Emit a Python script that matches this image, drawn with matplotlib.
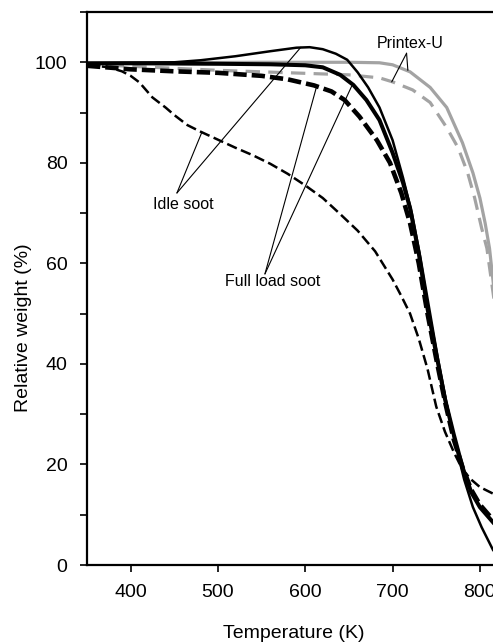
import matplotlib
matplotlib.use("Agg")
import matplotlib.pyplot as plt
from matplotlib.ticker import MultipleLocator

plt.rcParams['font.family'] = ['Liberation Sans', 'DejaVu Sans']

# TGA curves, temperature (K) vs relative weight (%)
idle_solid_T = [350, 400, 450, 480, 520, 560, 590, 605, 620, 635, 648, 660, 672, 685,
                700, 712, 722, 732, 742, 752, 762, 772, 782, 792, 802, 815]
idle_solid_w = [99.8, 99.9, 100.0, 100.4, 101.2, 102.2, 102.9, 103.0, 102.6, 101.7, 100.5,
                98.0, 95.0, 91.0, 84.5, 77.0, 70.0, 61.0, 51.0, 41.0, 32.0, 24.0, 17.0,
                11.5, 7.5, 3.0]

idle_dash_T = [350, 375, 390, 400, 410, 425, 440, 450, 465, 480, 500, 520, 540, 560, 580,
               600, 620, 640, 660, 680, 700, 710, 720, 730, 740, 750, 760, 770, 780, 790,
               800, 815]
idle_dash_w = [99.5, 99.0, 98.2, 97.3, 96.0, 93.0, 91.0, 89.5, 87.5, 86.2, 84.6, 83.0, 81.5,
               79.8, 77.8, 75.5, 73.0, 69.8, 66.5, 62.4, 56.8, 53.5, 50.0, 45.0, 39.0, 31.5,
               26.5, 22.5, 19.0, 17.0, 15.5, 14.2]

full_solid_T = [350, 400, 500, 560, 600, 620, 640, 655, 670, 685, 700, 712, 720, 730, 740,
                750, 760, 770, 780, 790, 800, 815]
full_solid_w = [99.8, 99.8, 99.7, 99.6, 99.4, 99.0, 97.5, 95.5, 92.5, 88.5, 82.0, 76.0, 71.0,
                62.0, 51.0, 42.0, 33.0, 26.0, 19.5, 14.5, 11.5, 8.5]

full_dash_T = [350, 400, 450, 500, 550, 580, 610, 630, 645, 662, 682, 697, 710, 720, 730,
               740, 750, 760, 770, 780, 790, 800, 815]
full_dash_w = [99.3, 98.6, 98.2, 97.9, 97.3, 96.6, 95.4, 94.2, 92.5, 89.2, 84.5, 80.0, 74.0,
               68.0, 60.0, 50.0, 41.0, 32.5, 25.0, 19.5, 15.0, 12.0, 9.0]

printex_solid_T = [350, 450, 550, 650, 685, 700, 720, 743, 762, 780, 792, 800, 806, 811, 816]
printex_solid_w = [99.8, 99.9, 100.0, 100.0, 99.9, 99.5, 98.1, 95.0, 91.0, 84.0, 78.0, 73.0,
                   68.0, 63.0, 55.0]

printex_dash_T = [350, 400, 450, 500, 550, 600, 650, 685, 700, 723, 743, 762, 775, 786, 794,
                  802, 808, 816]
printex_dash_w = [99.6, 99.2, 98.8, 98.4, 98.1, 97.8, 97.5, 96.9, 96.1, 94.5, 92.0, 87.0,
                  83.0, 78.0, 73.0, 67.0, 63.0, 53.0]

fig = plt.figure(figsize=(4.93, 6.44), dpi=100)
ax = fig.add_axes([87 / 493, 79 / 644, 1 - 87 / 493, 553 / 644])

grey = '#a3a3a3'
ax.plot(printex_solid_T, printex_solid_w, color=grey, lw=2.3, solid_capstyle='butt')
ax.plot(printex_dash_T, printex_dash_w, color=grey, lw=2.3, dashes=(4.5, 2.6))
ax.plot(full_dash_T, full_dash_w, color='black', lw=3.3, dashes=(2.9, 1.1))
ax.plot(idle_dash_T, idle_dash_w, color='black', lw=1.8, dashes=(4.2, 1.8))
ax.plot(full_solid_T, full_solid_w, color='black', lw=2.9)
ax.plot(idle_solid_T, idle_solid_w, color='black', lw=1.8)

# labels with thin leader lines
notes = [
    ('Idle soot', (460, 71.8), (453, 74.0), [(481.6, 86.1), (595, 103.0)]),
    ('Full load soot', (563, 56.3), (553.8, 57.9), [(613, 95.2), (653, 95.2)]),
    ('Printex-U', (720, 103.8), (716, 101.8), [(699, 96.1), (717.5, 98.4)]),
]
for label, txt_xy, hub, ends in notes:
    ax.text(txt_xy[0], txt_xy[1], label, ha='center', va='center', fontsize=11.5)
    for end in ends:
        ax.annotate('', xy=end, xytext=hub,
                    arrowprops=dict(arrowstyle='-', lw=0.8, color='black',
                                    shrinkA=0, shrinkB=0))

ax.set_xlim(350, 815)
ax.set_ylim(0, 110)
ax.set_xticks([400, 500, 600, 700, 800])
ax.set_yticks([0, 20, 40, 60, 80, 100])
ax.yaxis.set_minor_locator(MultipleLocator(10))
ax.tick_params(which='both', direction='out', length=5, width=1.2, labelsize=14, pad=9)
ax.spines['right'].set_visible(False)
for s in ['left', 'bottom', 'top']:
    ax.spines[s].set_linewidth(1.6)

ax.set_xlabel('Temperature (K)', fontsize=14)
ax.set_ylabel('Relative weight (%)', fontsize=14)
ax.xaxis.set_label_coords(0.51, -0.1085)
ax.yaxis.set_label_coords(-0.135, 0.43)

fig.savefig('out.png', dpi=100)
